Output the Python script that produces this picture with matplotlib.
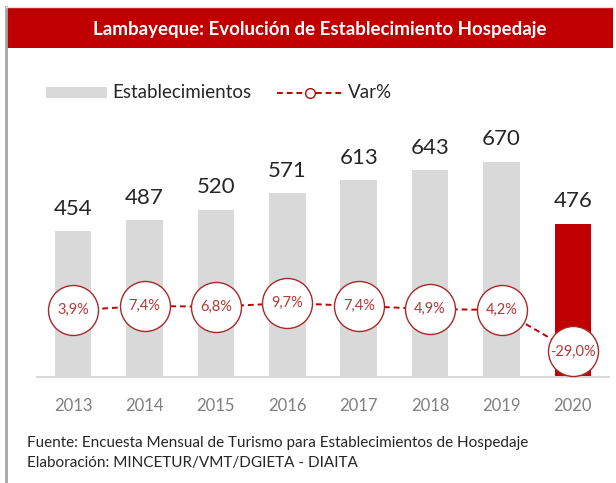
import matplotlib
matplotlib.use("Agg")
import matplotlib.pyplot as plt
from matplotlib.patches import Rectangle
from matplotlib.lines import Line2D

plt.rcParams["font.family"] = ["Lato", "DejaVu Sans"]

years = ["2013", "2014", "2015", "2016", "2017", "2018", "2019", "2020"]
establecimientos = [454, 487, 520, 571, 613, 643, 670, 476]
var_pct = [3.9, 7.4, 6.8, 9.7, 7.4, 4.9, 4.2, -29.0]

W, H = 616, 483
fig = plt.figure(figsize=(W / 100, H / 100), dpi=100)


def fx(px):
    return px / W


def fy(py):
    return 1 - py / H


# frame and title band
fig.add_artist(Line2D([fx(6), fx(6)], [fy(7), 0], color="#A6A6A6", lw=2))
fig.add_artist(Line2D([fx(6), fx(613)], [fy(7), fy(7)], color="#E0E0E0", lw=1))
fig.add_artist(Rectangle((fx(7), fy(48)), fx(613) - fx(7), fy(8) - fy(48),
                         transform=fig.transFigure, color="#C00000", lw=0))
fig.text(fx(320), fy(29), "Lambayeque: Evolución de Establecimiento Hospedaje",
         color="white", fontsize=13.5, fontweight="bold", ha="center", va="center")

# main axes
left, right, base, top = 37.4, 608.6, 376.7, 120
ax = fig.add_axes([fx(left), fy(base), fx(right - left), (base - top) / H])
x = list(range(len(years)))
colors = ["#D9D9D9"] * (len(years) - 1) + ["#C00000"]
ax.bar(x, establecimientos, width=0.51, color=colors, zorder=1)
ax.set_xlim(-0.5, len(years) - 0.5)
ax.set_ylim(0, 800)
for xi, v in zip(x, establecimientos):
    ax.annotate(str(v), (xi, v), xytext=(0, 9), textcoords="offset points",
                ha="center", va="bottom", fontsize=16, color="#262626")

ax.set_xticks(x)
ax.set_xticklabels(years, fontsize=12, color="#7F7F7F")
ax.tick_params(axis="x", length=0, pad=15)
ax.set_yticks([])
for s in ["top", "left", "right"]:
    ax.spines[s].set_visible(False)
ax.spines["bottom"].set_color("#D9D9D9")
ax.spines["bottom"].set_linewidth(1.5)
ax.patch.set_alpha(0)

ax2 = ax.twinx()
ax2.set_ylim(-49.2, 156.2)
ax2.plot(x, var_pct, color="#C00000", lw=1.4, ls=(0, (3, 2)), marker="o",
         markersize=36, markerfacecolor="white", markeredgecolor="#A82828",
         markeredgewidth=1.0, zorder=3)
for xi, v in zip(x, var_pct):
    ax2.text(xi, v, f"{v:.1f}%".replace(".", ","), ha="center", va="center",
             fontsize=10.5, color="#B83838", zorder=4)
ax2.set_yticks([])
for s in ax2.spines.values():
    s.set_visible(False)

# legend
fig.add_artist(Rectangle((fx(46), fy(98)), fx(107) - fx(46), fy(87) - fy(98),
                         transform=fig.transFigure, color="#D9D9D9", lw=0))
fig.text(fx(112), fy(93), "Establecimientos", fontsize=13.5, color="#262626",
         ha="left", va="center")
fig.add_artist(Line2D([fx(277), fx(342)], [fy(93), fy(93)], color="#C00000",
                      lw=1.4, ls=(0, (3, 2))))
fig.add_artist(Line2D([fx(309.5)], [fy(93)], marker="o", markersize=7,
                      markerfacecolor="white", markeredgecolor="#C00000", lw=0))
fig.text(fx(348), fy(93), "Var%", fontsize=13.5, color="#262626",
         ha="left", va="center")

# footer
fig.text(fx(27), fy(443), "Fuente: Encuesta Mensual de Turismo para Establecimientos de Hospedaje",
         fontsize=11, color="#262626", ha="left", va="center")
fig.text(fx(27), fy(463), "Elaboración: MINCETUR/VMT/DGIETA - DIAITA",
         fontsize=11, color="#262626", ha="left", va="center")

fig.savefig("out.png", dpi=100)
